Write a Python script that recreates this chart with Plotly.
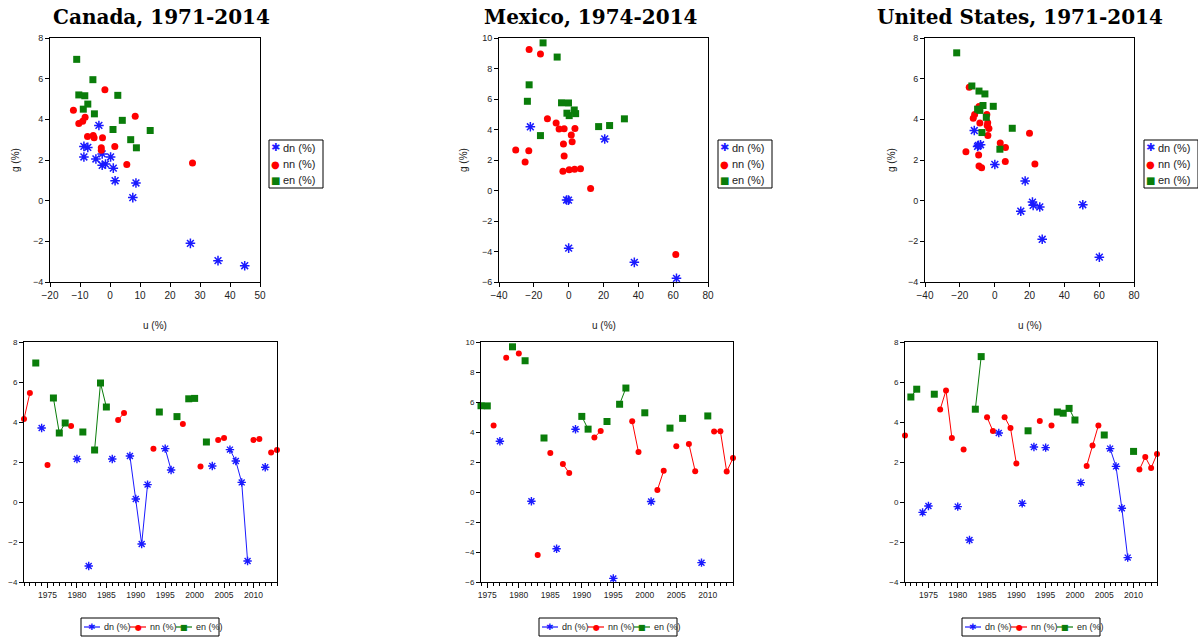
import plotly.graph_objects as go

# ---------------- data ----------------
regimes = ["dn", "nn", "en"]
regime_labels = ["dn (%)", "nn (%)", "en (%)"]

years_ca = list(range(1971, 2015))
regime_ca = ("nn nn en dn nn en en en nn dn en dn en en en dn nn nn dn dn dn dn nn en dn dn "
             "en nn en en nn en dn nn nn dn dn dn dn nn nn dn nn nn").split()
g_ca = [4.15, 5.45, 6.95, 3.70, 1.85, 5.20, 3.45, 3.95, 3.80, 2.15, 3.50, -3.20, 2.60, 5.95, 4.75,
        2.15, 4.10, 4.45, 2.30, 0.15, -2.10, 0.87, 2.66, 4.50, 2.67, 1.60, 4.27, 3.90, 5.16, 5.18,
        1.78, 3.00, 1.80, 3.10, 3.20, 2.62, 2.05, 0.98, -2.95, 3.10, 3.15, 1.74, 2.48, 2.60]
u_ca = [8.4, -1.7, -11.1, -3.7, 27.5, -10.4, 13.4, 4.1, -10.4, -8.7, 1.0, 44.9, 8.8, -5.7, -7.4,
        0.2, -8.3, -12.2, -2.6, 7.6, 26.8, 8.65, 1.6, -8.9, -8.7, 1.1, -5.2, -9.1, -8.4, 2.6,
        5.6, 6.9, -1.5, -5.3, -5.6, -7.4, -4.7, 1.7, 36.0, -2.5, -7.5, -2.6, -2.9, -2.9]

years_mx = list(range(1974, 2015))
regime_mx = ("en en nn dn nn en nn en dn nn en nn dn nn nn dn en en nn nn en dn en en nn nn "
             "en dn nn nn en nn en nn nn dn en nn nn nn nn").split()
g_mx = [5.75, 5.74, 4.43, 3.38, 8.95, 9.68, 9.24, 8.75, -0.62, -4.20, 3.60, 2.60, -3.78, 1.87, 1.26,
        4.18, 5.04, 4.19, 3.64, 4.07, 4.70, -5.76, 5.85, 6.93, 4.71, 2.66, 5.28, -0.63, 0.13, 1.42,
        4.26, 3.05, 4.91, 3.20, 1.39, -4.71, 5.07, 4.03, 4.05, 1.36, 2.26]
u_mx = [-4.1, -0.1, -7.2, 20.7, -16.2, -14.7, -22.7, -6.6, -1.2, 61.5, -16.2, -22.9, 0.0, -25.0, -3.3,
        -22.0, 4.0, 17.2, 1.5, 3.6, 32.0, 61.9, -23.7, -22.7, -12.2, -30.4, 3.2, -0.1, 12.6, 6.8,
        23.5, -3.0, 0.3, 2.0, 3.4, 37.7, -1.0, -5.5, -2.6, 0.3, -2.6]

years_us = list(range(1971, 2015))
regime_us = ("nn en en dn dn en nn nn nn dn nn dn en en nn nn dn nn nn nn dn en dn nn dn nn "
             "en en en en dn nn nn nn en dn dn dn dn en nn nn nn nn").split()
g_us = [3.32, 5.25, 5.64, -0.52, -0.20, 5.39, 4.63, 5.58, 3.20, -0.23, 2.62, -1.90, 4.64, 7.27, 4.24,
        3.55, 3.45, 4.24, 3.70, 1.93, -0.07, 3.56, 2.75, 4.05, 2.72, 3.82, 4.50, 4.44, 4.68, 4.10,
        0.97, 1.80, 2.83, 3.83, 3.35, 2.67, 1.78, -0.31, -2.78, 2.53, 1.62, 2.25, 1.70, 2.40]
u_us = [20.0, -5.6, -13.1, 15.0, 50.6, -9.0, -9.0, -14.6, -3.9, 22.1, 6.2, 27.3, -0.8, -21.8, -11.5,
        -3.3, -11.7, -4.5, -4.3, 6.1, 21.7, 10.1, -8.1, -12.3, -9.3, -8.5, -9.8, -8.5, -6.7, -4.8,
        17.5, 23.1, 3.2, -4.0, -7.3, -9.8, 0.1, 25.9, 60.1, 3.0, -7.5, -9.2, -9.0, -16.5]

titles = ["Canada, 1971-2014", "Mexico, 1974-2014", "United States, 1971-2014"]

# ---------------- styles ----------------
W, H = 1198, 637
COL = {"dn": "#1a1aff", "nn": "#ff0000", "en": "#0a7d0a"}
SYM = {"dn": "asterisk-open", "nn": "circle", "en": "square"}
GLYPH = {"dn": "✱", "nn": "●", "en": "■"}
GLYPH_SIZE = {"dn": 11, "nn": 10, "en": 10}
SIZE_TOP = {"dn": 8, "nn": 7, "en": 7}
SIZE_BOT = {"dn": 7, "nn": 6, "en": 7}

def px(x):
    return x / W

def py(y):
    return 1 - y / H

panels = [
    dict(years=years_ca, reg=regime_ca, g=g_ca, u=u_ca,
         top_x=(50, 260), bot_x=(24, 277), urange=(-20, 50), udt=10, grange=(-4, 8),
         yr=(1971, 2014), title_x=161, leg_x=269, gtitle_x=15, bleg_x=81),
    dict(years=years_mx, reg=regime_mx, g=g_mx, u=u_mx,
         top_x=(499, 708), bot_x=(481, 733), urange=(-40, 80), udt=20, grange=(-6, 10),
         yr=(1974, 2014), title_x=591, leg_x=718, gtitle_x=463, bleg_x=539),
    dict(years=years_us, reg=regime_us, g=g_us, u=u_us,
         top_x=(925, 1134), bot_x=(905, 1157), urange=(-40, 80), udt=20, grange=(-4, 8),
         yr=(1971, 2014), title_x=1020, leg_x=1144, gtitle_x=891, bleg_x=962),
]

fig = go.Figure()
annotations = []
shapes = []
layout = {}
SANS = "Liberation Sans, Arial, sans-serif"
TICKFONT = dict(family=SANS, size=10, color="#222")
BOTFONT = dict(family=SANS, size=8.5, color="#222")

def ann(text, x, y, size, color="#222", xanchor="left", family=SANS):
    annotations.append(dict(text=text, x=px(x), y=py(y), xref="paper", yref="paper",
                            showarrow=False, xanchor=xanchor, yanchor="middle",
                            font=dict(family=family, size=size, color=color)))

for i, p in enumerate(panels):
    ti = i + 1          # top axis index
    bi = i + 4          # bottom axis index
    xs_t = "x" if ti == 1 else f"x{ti}"
    ys_t = "y" if ti == 1 else f"y{ti}"
    # scatter traces
    for r, lab in zip(regimes, regime_labels):
        xu = [u for u, rr in zip(p["u"], p["reg"]) if rr == r]
        yg = [g for g, rr in zip(p["g"], p["reg"]) if rr == r]
        mk = dict(symbol=SYM[r], size=SIZE_TOP[r], color=COL[r])
        if r == "dn":
            mk["line"] = dict(color=COL[r], width=1.5)
        fig.add_trace(go.Scatter(x=xu, y=yg, mode="markers", name=lab, marker=mk,
                                 xaxis=xs_t, yaxis=ys_t, showlegend=False, cliponaxis=False))
    # time-series traces
    for r, lab in zip(regimes, regime_labels):
        yv = [g if rr == r else None for g, rr in zip(p["g"], p["reg"])]
        mk = dict(symbol=SYM[r], size=SIZE_BOT[r], color=COL[r])
        if r == "dn":
            mk["line"] = dict(color=COL[r], width=1.4)
        fig.add_trace(go.Scatter(x=p["years"], y=yv, mode="lines+markers", name=lab,
                                 marker=mk, line=dict(color=COL[r], width=1),
                                 connectgaps=False, xaxis=f"x{bi}", yaxis=f"y{bi}",
                                 showlegend=False, cliponaxis=False))

    axcommon = dict(showline=True, mirror=True, linecolor="black", linewidth=1,
                    showgrid=False, zeroline=False, ticks="outside", tickcolor="black")
    # top axes
    layout["xaxis" if ti == 1 else f"xaxis{ti}"] = dict(
        axcommon, domain=[px(p["top_x"][0]), px(p["top_x"][1])], range=list(p["urange"]),
        dtick=p["udt"], tick0=0, ticklen=4, tickfont=TICKFONT, anchor=ys_t)
    layout["yaxis" if ti == 1 else f"yaxis{ti}"] = dict(
        axcommon, domain=[py(282), py(38)], range=list(p["grange"]), dtick=2, tick0=0,
        ticklen=4, tickfont=dict(TICKFONT, size=9), anchor=xs_t)
    # bottom axes
    layout[f"xaxis{bi}"] = dict(
        axcommon, domain=[px(p["bot_x"][0]), px(p["bot_x"][1])], range=list(p["yr"]),
        tickvals=list(range(1975, 2015, 5)), ticklen=5, tickfont=BOTFONT,
        minor=dict(dtick=1, tick0=1970, ticks="outside", ticklen=3, tickcolor="black"),
        anchor=f"y{bi}")
    layout[f"yaxis{bi}"] = dict(
        axcommon, domain=[py(582), py(342)], range=list(p["grange"]), dtick=2, tick0=0,
        ticklen=4, tickfont=dict(BOTFONT, size=8), anchor=f"x{bi}")

    # top legend (box + symbol + label)
    lx = p["leg_x"]
    shapes.append(dict(type="rect", xref="paper", yref="paper", x0=px(lx), x1=px(lx + 54),
                       y0=py(188), y1=py(140), line=dict(color="black", width=1),
                       fillcolor="white", layer="above"))
    for k, (r, lab) in enumerate(zip(regimes, regime_labels)):
        yy = 148 + 16 * k
        ann(GLYPH[r], lx + 6, yy, GLYPH_SIZE[r], color=COL[r], xanchor="center",
            family="DejaVu Sans, sans-serif")
        ann(lab, lx + 12, yy, 11)

    # bottom legend (box + line sample + symbol + label)
    bx = p["bleg_x"]
    shapes.append(dict(type="rect", xref="paper", yref="paper", x0=px(bx), x1=px(bx + 138),
                       y0=py(636), y1=py(618), line=dict(color="black", width=1),
                       fillcolor="white", layer="above"))
    for k, (r, lab) in enumerate(zip(regimes, regime_labels)):
        ox = bx + 3 + 46 * k
        shapes.append(dict(type="line", xref="paper", yref="paper", x0=px(ox), x1=px(ox + 16),
                           y0=py(627), y1=py(627), line=dict(color=COL[r], width=1.2),
                           layer="above"))
        ann(GLYPH[r], ox + 8, 627, GLYPH_SIZE[r] - 2, color=COL[r], xanchor="center",
            family="DejaVu Sans, sans-serif")
        ann(lab, ox + 18, 627, 9)

    # texts
    annotations.append(dict(text=f"<b>{titles[i]}</b>", x=px(p["title_x"]), y=py(17),
                            xref="paper", yref="paper", showarrow=False,
                            font=dict(family="DejaVu Serif, serif", size=20, color="black"),
                            xanchor="center", yanchor="middle"))
    ann("u (%)", (p["top_x"][0] + p["top_x"][1]) / 2, 325, 10, xanchor="center")
    annotations.append(dict(text="g (%)", x=px(p["gtitle_x"]), y=py(160), textangle=-90,
                            xref="paper", yref="paper", showarrow=False,
                            font=dict(family=SANS, size=10, color="#222"),
                            xanchor="center", yanchor="middle"))

fig.update_layout(**layout)
fig.update_layout(width=W, height=H, margin=dict(l=0, r=0, t=0, b=0, autoexpand=False),
                  paper_bgcolor="white", plot_bgcolor="white", annotations=annotations,
                  shapes=shapes, showlegend=False)

fig.write_html("out.html", config={"displayModeBar": False},
               post_script="document.body.style.margin='0px';document.body.style.overflow='hidden';")
